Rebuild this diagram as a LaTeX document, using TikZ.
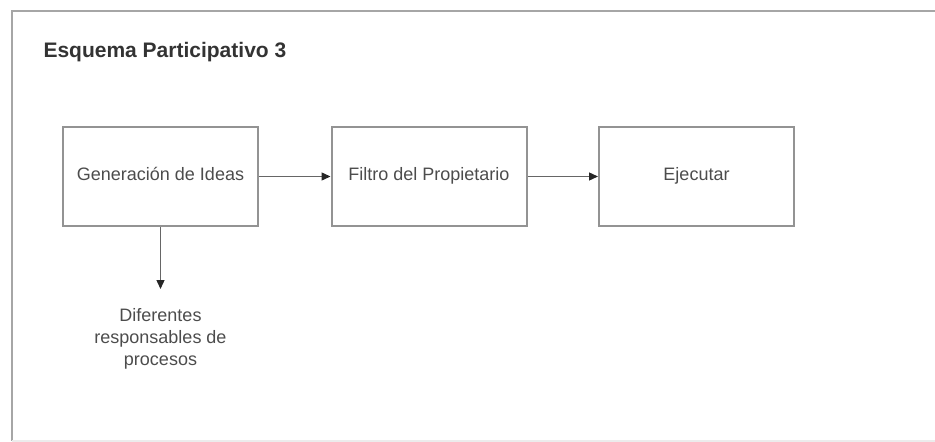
\documentclass[tikz,border=0pt]{standalone}
\usepackage{fontspec}
\setmainfont{Liberation Sans}
\usetikzlibrary{arrows.meta}

\begin{document}
\begin{tikzpicture}[x=1pt,y=-1pt,font=\fontsize{18}{22}\selectfont,
  caja/.style={draw=gray!85,line width=2pt,minimum width=195pt,minimum height=99pt,text=black!70,text height=12.5pt,text depth=4pt},
  flecha/.style={gray!80!black,line width=1.4pt,-{Triangle[length=9pt,width=8pt,black!85]}}]
\useasboundingbox (0,0) rectangle (935,442);
% marco
\draw[gray!70,line width=2pt] (935,11) -- (12,11) -- (12,441);
\draw[gray!15,line width=1.5pt] (12,441) -- (935,441);
\node[font=\fontsize{21}{24}\selectfont\bfseries,text=black!80,anchor=west] (titulo) at (40,52) {Esquema Participativo 3};
\node[caja] (gen) at (160.5,176.5) {Generación de Ideas};
\node[caja] (filtro) at (429,176.5) {Filtro del Propietario};
\node[caja] (ejec) at (696.5,176.5) {Ejecutar};
\node[align=center,text=black!70] (resp) at (160.5,339) {Diferentes\\responsables de\\procesos};
\coordinate (punta) at (160.5,289);
\draw[flecha] (gen) -- (filtro);
\draw[flecha] (filtro) -- (ejec);
\draw[flecha] (gen) -- (punta);
\end{tikzpicture}
\end{document}
